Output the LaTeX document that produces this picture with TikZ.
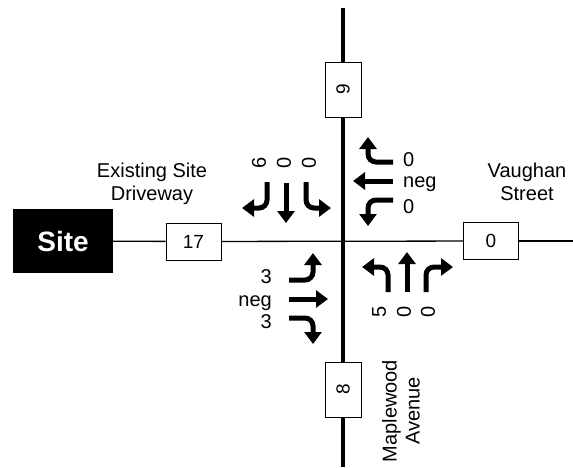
\documentclass[tikz,border=0pt]{standalone}
\usepackage{fontspec}
\setmainfont{Liberation Sans}
\usetikzlibrary{arrows.meta}
\begin{document}
\begin{tikzpicture}[x=1pt,y=-1pt,
  lbl/.style={font=\fontsize{20}{23}\selectfont, inner sep=0pt, align=center},
  num/.style={font=\fontsize{20}{23}\selectfont, inner sep=0pt},
  vnum/.style={num, rotate=90},
  volbox/.style={draw, line width=1pt, fill=white, inner sep=0pt, font=\fontsize{19}{22}\selectfont},
  hbox/.style={volbox, minimum width=55pt, minimum height=37pt},
  vbox/.style={volbox, minimum width=36pt, minimum height=55pt},
  mainroad/.style={line width=3.5pt},
  sideroad/.style={line width=1.3pt},
  mv/.style={line width=5pt, rounded corners=8pt, -{Triangle[length=12pt,width=17pt]}}
]
\useasboundingbox (0,0) rectangle (573,467);

% road end coordinates
\coordinate (ntop) at (343,8);
\coordinate (sbot) at (343,467);
\coordinate (eend) at (573,241);

% site and boxes
\node[fill=black, minimum width=100pt, minimum height=64pt, inner sep=0pt,
      text=white, font=\fontsize{28}{30}\bfseries\selectfont] (site) at (63,241) {Site};
\node[hbox] (b17) at (193.5,241.5) {17};
\node[hbox] (b0) at (491,241) {0};
\node[vbox] (b9) at (343,89.5) {\rotatebox{90}{9}};
\node[vbox] (b8) at (343,389.5) {\rotatebox{90}{8}};

% roads
\draw[mainroad] (ntop) -- (b9);
\draw[mainroad] (b9) -- (b8);
\draw[mainroad] (b8) -- (sbot);
\draw[sideroad] (site) -- (b17);
\draw[sideroad] (b17) -- (b0);
\draw[sideroad] (b0) -- (eend);

% labels
\node[lbl] (lexist) at (152,184) {Existing Site\\Driveway};
\node[lbl] (lvaughan) at (527,182) {Vaughan\\Street};
\node[lbl, rotate=90] (lmaple) at (401,411) {Maplewood\\Avenue};

% southbound
\draw[mv] (267,182) |- (242,208);
\draw[mv] (286,183) -- (286,223);
\draw[mv] (306,182) |- (331,208);
\node[vnum] (sbl) at (259,163) {6};
\node[vnum] (sbt) at (284,163) {0};
\node[vnum] (sbr) at (309,163) {0};

% westbound
\draw[mv] (393,162) -| (368,137);
\draw[mv] (393,181) -- (353,181);
\draw[mv] (393,200) -| (368,226);
\node[num, anchor=base west] (wbr) at (403,166) {0};
\node[num, anchor=base west] (wbt) at (403,187) {neg};
\node[num, anchor=base west] (wbl) at (403,213) {0};

% eastbound
\draw[mv] (289,280) -| (313,253);
\draw[mv] (289,299) -- (328,299);
\draw[mv] (289,318) -| (313,344);
\node[num, anchor=base east] (ebl) at (272,283) {3};
\node[num, anchor=base east] (ebt) at (272,306) {neg};
\node[num, anchor=base east] (ebr) at (272,328) {3};

% northbound
\draw[mv] (388,292) |- (362,267);
\draw[mv] (407,292) -- (407,252);
\draw[mv] (426,292) |- (453,267);
\node[vnum] (nbl) at (379,312) {5};
\node[vnum] (nbt) at (404,312) {0};
\node[vnum] (nbr) at (428,312) {0};
\end{tikzpicture}
\end{document}
